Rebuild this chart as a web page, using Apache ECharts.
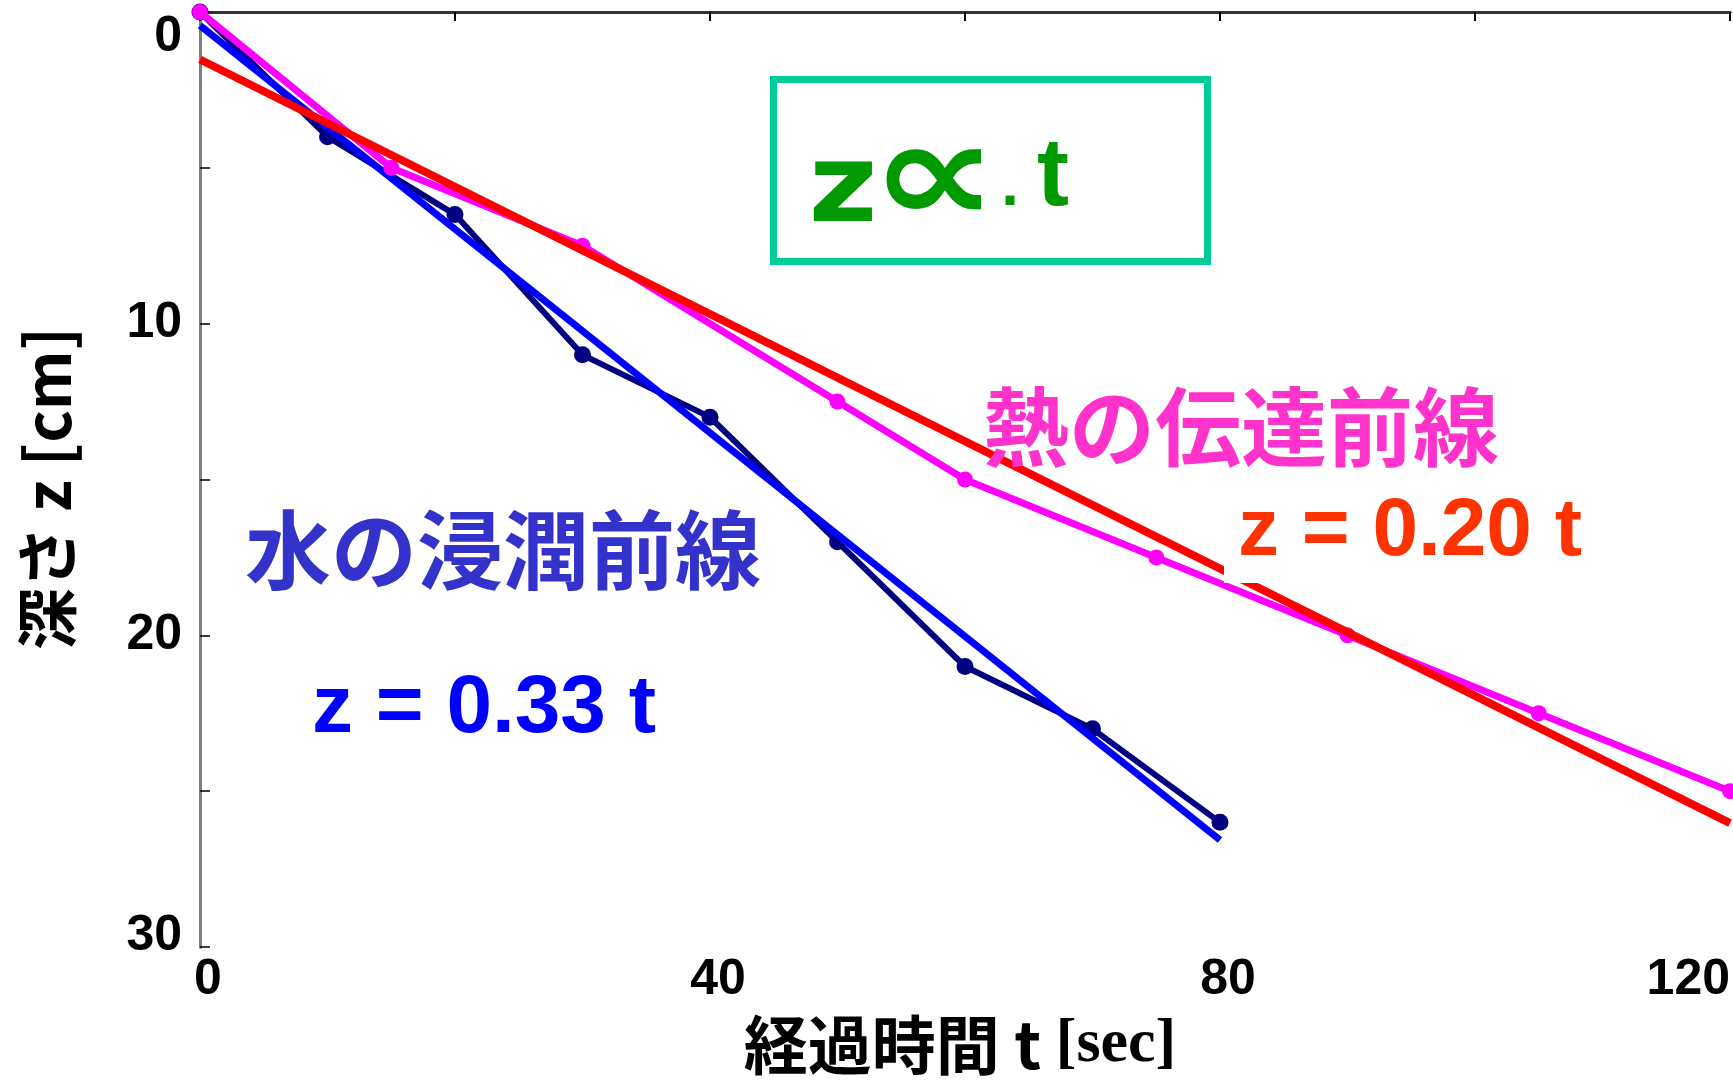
<!DOCTYPE html>
<html>
<head>
<meta charset="utf-8">
<script src="https://cdn.jsdelivr.net/npm/echarts@6/dist/echarts.min.js"></script>
<style>
  html, body { margin: 0; padding: 0; background: #fff; }
  #chart { width: 1733px; height: 1085px; }
</style>
</head>
<body>
<div id="chart"></div>
<script>
// Water infiltration front: elapsed time t [sec] and depth z [cm]
const waterT = [0, 10, 20, 30, 40, 50, 60, 70, 80];
const waterZ = [0, 4, 6.5, 11, 13, 17, 21, 23, 26];

// Heat transfer front
const heatT = [0, 15, 30, 50, 60, 75, 90, 105, 120];
const heatZ = [0, 5, 7.5, 12.5, 15, 17.5, 20, 22.5, 25];

// Axis ticks
const xLabelTicks = [0, 40, 80, 120];
const yLabelTicks = [0, 10, 20, 30];

// Least-squares straight line through a series
function linFit(ts, zs) {
  const n = ts.length;
  const mt = ts.reduce((a, b) => a + b, 0) / n;
  const mz = zs.reduce((a, b) => a + b, 0) / n;
  let sxy = 0, sxx = 0;
  for (let i = 0; i < n; i++) {
    sxy += (ts[i] - mt) * (zs[i] - mz);
    sxx += (ts[i] - mt) * (ts[i] - mt);
  }
  const slope = sxy / sxx;
  return { slope: slope, intercept: mz - slope * mt };
}

const waterFit = linFit(waterT, waterZ);
const heatFit = linFit(heatT, heatZ);

function fitLine(fit, ts) {
  const t0 = ts[0], t1 = ts[ts.length - 1];
  return [[t0, fit.intercept + fit.slope * t0], [t1, fit.intercept + fit.slope * t1]];
}

const pairs = (ts, zs) => ts.map((t, i) => [t, zs[i]]);

const chart = echarts.init(document.getElementById('chart'), null, { renderer: 'canvas' });

const sansLatin = '"Liberation Sans", Arial, sans-serif';
const jp = '"Noto Sans CJK JP", sans-serif';
const yMax = yLabelTicks[yLabelTicks.length - 1];

// centred text placed at (x, y); optional stretch factors
function txt(text, x, y, fill, font, sx, sy) {
  return {
    type: 'text', z: 101,
    x: x, y: y, scaleX: sx || 1, scaleY: sy || 1,
    style: {
      text: text, x: 0, y: 0, fill: fill, font: font,
      align: 'center', verticalAlign: 'middle',
      textAlign: 'center', textVerticalAlign: 'middle'
    }
  };
}

chart.setOption({
  animation: false,
  backgroundColor: '#ffffff',
  grid: { left: 200, right: 2, top: 12, bottom: 138, containLabel: false },
  xAxis: [
    {
      type: 'value', position: 'bottom',
      min: xLabelTicks[0], max: xLabelTicks[xLabelTicks.length - 1], interval: 40,
      axisLine: { show: true, lineStyle: { color: '#808080', width: 3 } },
      axisTick: { show: false },
      splitLine: { show: false },
      axisLabel: {
        fontSize: 50, fontWeight: 'bold', color: '#000', fontFamily: sansLatin, margin: 8,
        padding: [0, 0, 0, 16], alignMaxLabel: 'right'
      },
      name: '{a|経過時間 t }{b|[sec]}',
      nameLocation: 'middle', nameGap: 66,
      nameTextStyle: {
        padding: [0, 10, 0, 0],
        rich: {
          a: { fontSize: 64, fontWeight: 'bold', fontFamily: jp, color: '#000' },
          b: { fontSize: 62, fontWeight: 'bold', fontFamily: '"Liberation Serif", serif', color: '#000' }
        }
      }
    },
    {
      type: 'value', position: 'top',
      min: 0, max: 120, interval: 20,
      axisLine: { show: true, lineStyle: { color: '#333', width: 3 } },
      axisTick: { show: true, inside: true, length: 9, lineStyle: { color: '#000', width: 2 } },
      axisLabel: { show: false },
      splitLine: { show: false }
    }
  ],
  yAxis: [
    {
      type: 'value', position: 'left', inverse: true,
      min: yLabelTicks[0], max: yMax, interval: 5,
      axisLine: { show: true, lineStyle: { color: '#404040', width: 3 } },
      axisTick: { show: true, inside: true, length: 10, lineStyle: { color: '#000', width: 1.5 } },
      splitLine: { show: false },
      axisLabel: {
        fontSize: 50, fontWeight: 'bold', color: '#000', fontFamily: sansLatin, margin: 18,
        formatter: v => {
          if (yLabelTicks.indexOf(v) < 0) return '';
          return v === yMax ? '{last|' + v + '}' : String(v);
        },
        rich: {
          last: { fontSize: 50, fontWeight: 'bold', color: '#000', fontFamily: sansLatin, padding: [0, 0, 22, 0] }
        },
        verticalAlignMinLabel: 'top', verticalAlignMaxLabel: 'middle'
      },
      name: '深さ z [cm]',
      nameLocation: 'middle', nameRotate: 90, nameGap: 122,
      nameTextStyle: { fontSize: 62, fontWeight: 'bold', fontFamily: jp, color: '#000', padding: [0, 18, 0, 0] }
    },
    {
      type: 'value', position: 'right', inverse: true,
      min: 0, max: yMax,
      axisLine: { show: true, lineStyle: { color: '#808080', width: 3 } },
      axisTick: { show: false }, axisLabel: { show: false }, splitLine: { show: false }
    }
  ],
  series: [
    {
      name: '水の浸潤前線', type: 'line', data: pairs(waterT, waterZ),
      xAxisIndex: 0, yAxisIndex: 0, z: 2,
      lineStyle: { color: '#000080', width: 6 },
      itemStyle: { color: '#000080' },
      symbol: 'circle', symbolSize: 17, showAllSymbol: true
    },
    {
      name: 'water fit', type: 'line', data: fitLine(waterFit, waterT),
      xAxisIndex: 0, yAxisIndex: 0, z: 3,
      lineStyle: { color: '#0000FF', width: 7 },
      symbol: 'none'
    },
    {
      name: '熱の伝達前線', type: 'line', data: pairs(heatT, heatZ),
      xAxisIndex: 0, yAxisIndex: 0, z: 4,
      lineStyle: { color: '#FF00FF', width: 7 },
      itemStyle: { color: '#FF00FF' },
      symbol: 'circle', symbolSize: 16, showAllSymbol: true
    },
    {
      name: 'heat fit', type: 'line', data: fitLine(heatFit, heatT),
      xAxisIndex: 0, yAxisIndex: 0, z: 5,
      lineStyle: { color: '#FF0000', width: 8 },
      symbol: 'none'
    }
  ],
  graphic: [
    // proportionality box
    {
      type: 'rect', z: 100,
      shape: { x: 773.5, y: 79.5, width: 434, height: 182 },
      style: { fill: 'rgba(255,255,255,0)', stroke: '#00CC99', lineWidth: 7 }
    },
    txt('z', 843, 193, '#009900', 'bold 108px "DejaVu Sans"', 1.1, 1),
    txt('∝', 934, 185, '#009900', 'bold 180px "DejaVu Sans"', 1, 0.8),
    txt('.', 1010, 192, '#009900', 'bold 50px "DejaVu Sans"'),
    txt('t', 1053, 179, '#009900', 'bold 96px ' + sansLatin),
    // front names
    txt('水の浸潤前線', 503, 550, '#3333CC', 'bold 86px ' + jp),
    txt('熱の伝達前線', 1241, 427, '#FF33CC', 'bold 86px ' + jp),
    // fitted-line equations
    txt('z = ' + waterFit.slope.toFixed(2) + ' t', 484, 709, '#0000FF', 'bold 82px ' + sansLatin),
    {
      type: 'rect', z: 100,
      shape: { x: 1224, y: 462, width: 520, height: 121 },
      style: { fill: '#ffffff' }
    },
    txt('z = ' + heatFit.slope.toFixed(2) + ' t', 1410, 532, '#FF3300', 'bold 82px ' + sansLatin)
  ]
});
</script>
</body>
</html>
